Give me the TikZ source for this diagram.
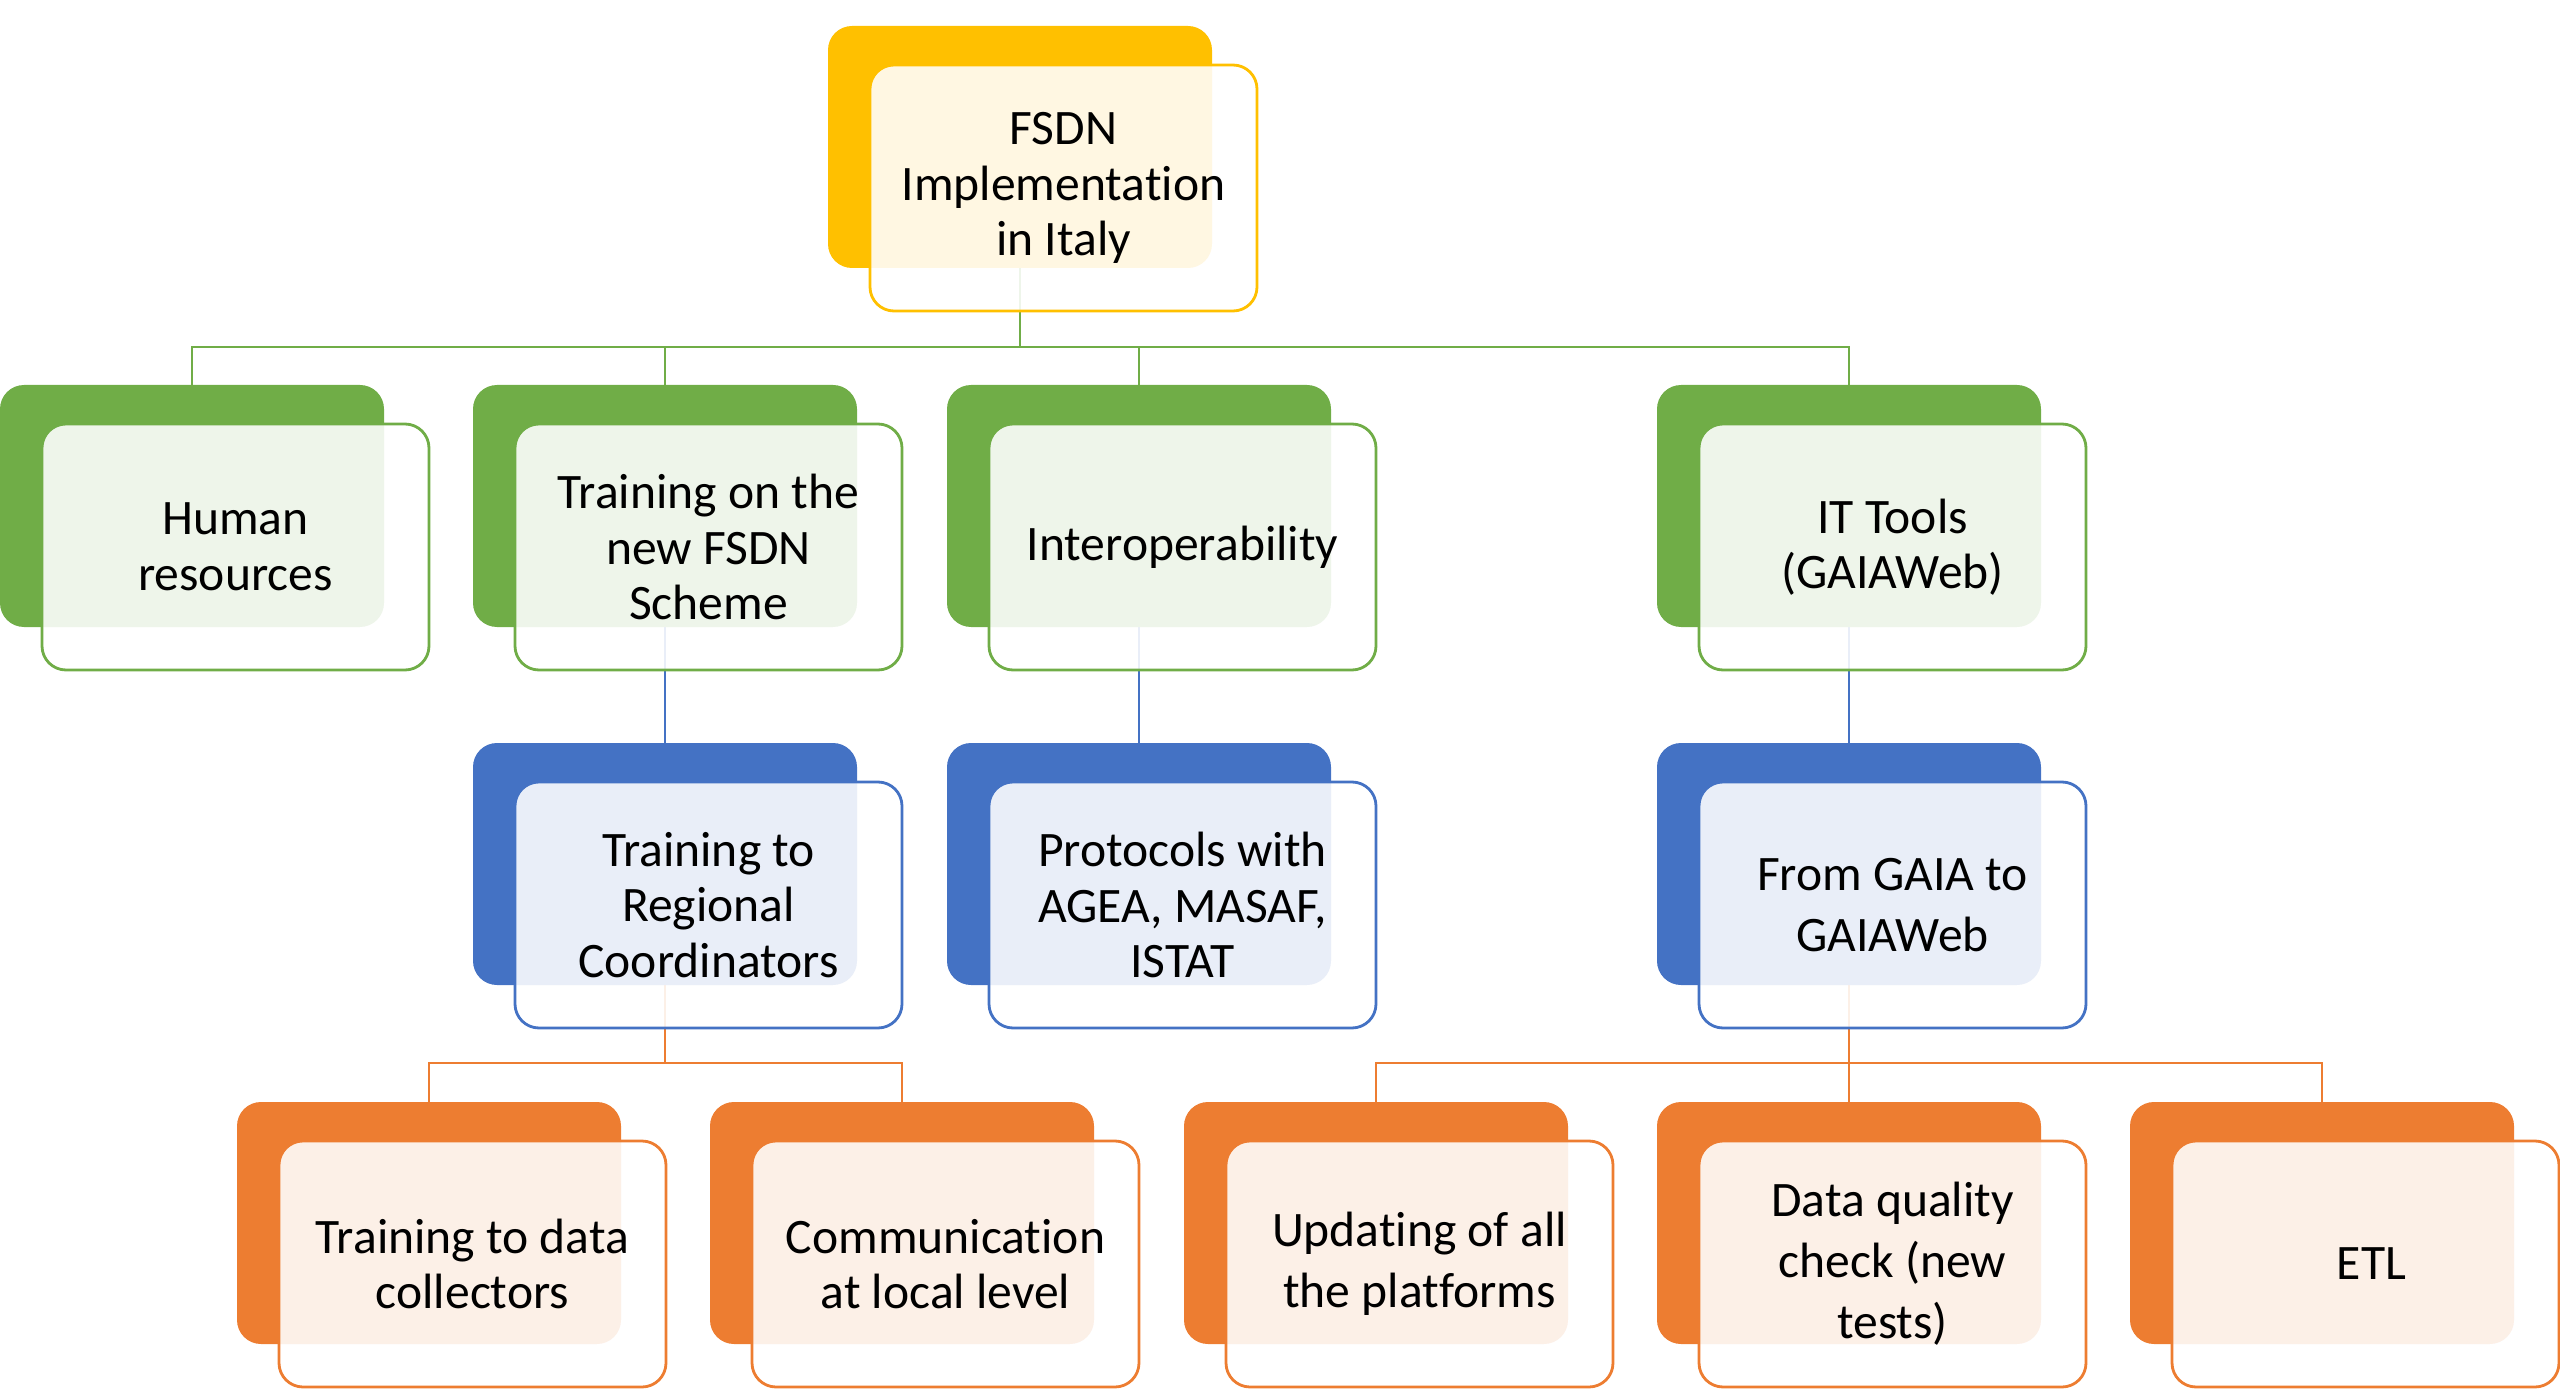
\documentclass[tikz,border=0pt]{standalone}
\usepackage{fontspec}
\setmainfont{Carlito}[RawFeature={-liga;-clig;-calt;-dlig}]
\usetikzlibrary{calc}
\pgfdeclarelayer{bg}
\pgfsetlayers{bg,main}
\definecolor{cyel}{HTML}{FFC000}
\definecolor{cgrn}{HTML}{70AD47}
\definecolor{cblu}{HTML}{4472C4}
\definecolor{corg}{HTML}{ED7D31}
\tikzset{
  backbox/.style={rectangle, rounded corners=12pt, minimum width=192pt, minimum height=121pt,
    inner sep=0pt, outer sep=0pt, anchor=north west, fill=#1},
  frontbox/.style={rectangle, rounded corners=12pt, minimum width=193.5pt, minimum height=123pt,
    inner sep=0pt, outer sep=0pt, anchor=north west, draw=#1, line width=1.4pt,
    fill=white, fill opacity=0.885, text opacity=1, align=center,
    font=\fontsize{24.8}{27.75}\selectfont},
  wide/.style={font=\fontsize{24.8}{30.5}\selectfont},
  conn/.style={draw=#1, line width=1.4pt}
}
\begin{document}
\begin{tikzpicture}[x=0.5pt,y=-0.5pt]
\useasboundingbox (0,0) rectangle (2560,1390);
% top
\node[backbox=cyel] (t0b) at (828,26) {};
\node[frontbox=cyel] (t0) at (870,65) {FSDN\\Implementation\\in Italy};
% level 1
\node[backbox=cgrn] (c1b) at (0,385) {};
\node[frontbox=cgrn] (c1) at (42,424) {Human\\resources};
\node[backbox=cgrn] (c2b) at (473,385) {};
\node[frontbox=cgrn] (c2) at (515,424) {Training on the\\new FSDN\\Scheme};
\node[backbox=cgrn] (c3b) at (947,385) {};
\node[frontbox=cgrn] (c3) at (989,424) {Interoperability};
\node[backbox=cgrn] (c4b) at (1657,385) {};
\node[frontbox=cgrn] (c4) at (1699,424) {IT Tools\\(GAIAWeb)};
% level 2
\node[backbox=cblu] (r2b) at (473,743) {};
\node[frontbox=cblu] (r2) at (515,782) {Training to\\Regional\\Coordinators};
\node[backbox=cblu] (r3b) at (947,743) {};
\node[frontbox=cblu] (r3) at (989,782) {Protocols with\\AGEA, MASAF,\\ISTAT};
\node[backbox=cblu] (r4b) at (1657,743) {};
\node[frontbox=cblu, wide] (r4) at (1699,782) {From GAIA to\\GAIAWeb};
% level 3
\node[backbox=corg] (o1b) at (237,1102) {};
\node[frontbox=corg] (o1) at (279,1141) {Training to data\\collectors};
\node[backbox=corg] (o2b) at (710,1102) {};
\node[frontbox=corg] (o2) at (752,1141) {Communication\\at local level};
\node[backbox=corg] (o3b) at (1184,1102) {};
\node[frontbox=corg, wide] (o3) at (1226,1141) {Updating of all\\the platforms};
\node[backbox=corg] (o4b) at (1657,1102) {};
\node[frontbox=corg, wide] (o4) at (1699,1141) {Data quality\\check (new\\tests)};
\node[backbox=corg] (o5b) at (2130,1102) {};
\node[frontbox=corg] (o5) at (2172,1141) {\hspace*{6pt}ETL};
% connectors
\coordinate (h1) at (0,347);
\coordinate (h3) at (0,1063);
\begin{pgfonlayer}{bg}
\foreach \c in {c1b,c2b,c3b,c4b}
  \draw[conn=cgrn] (t0b.south) -- (t0b.south |- h1) -| (\c.north);
\draw[conn=cblu] (c2b.south) -- (r2b.north);
\draw[conn=cblu] (c3b.south) -- (r3b.north);
\draw[conn=cblu] (c4b.south) -- (r4b.north);
\foreach \c in {o1b,o2b}
  \draw[conn=corg] (r2b.south) -- (r2b.south |- h3) -| (\c.north);
\foreach \c in {o3b,o4b,o5b}
  \draw[conn=corg] (r4b.south) -- (r4b.south |- h3) -| (\c.north);
\end{pgfonlayer}
\end{tikzpicture}
\end{document}
